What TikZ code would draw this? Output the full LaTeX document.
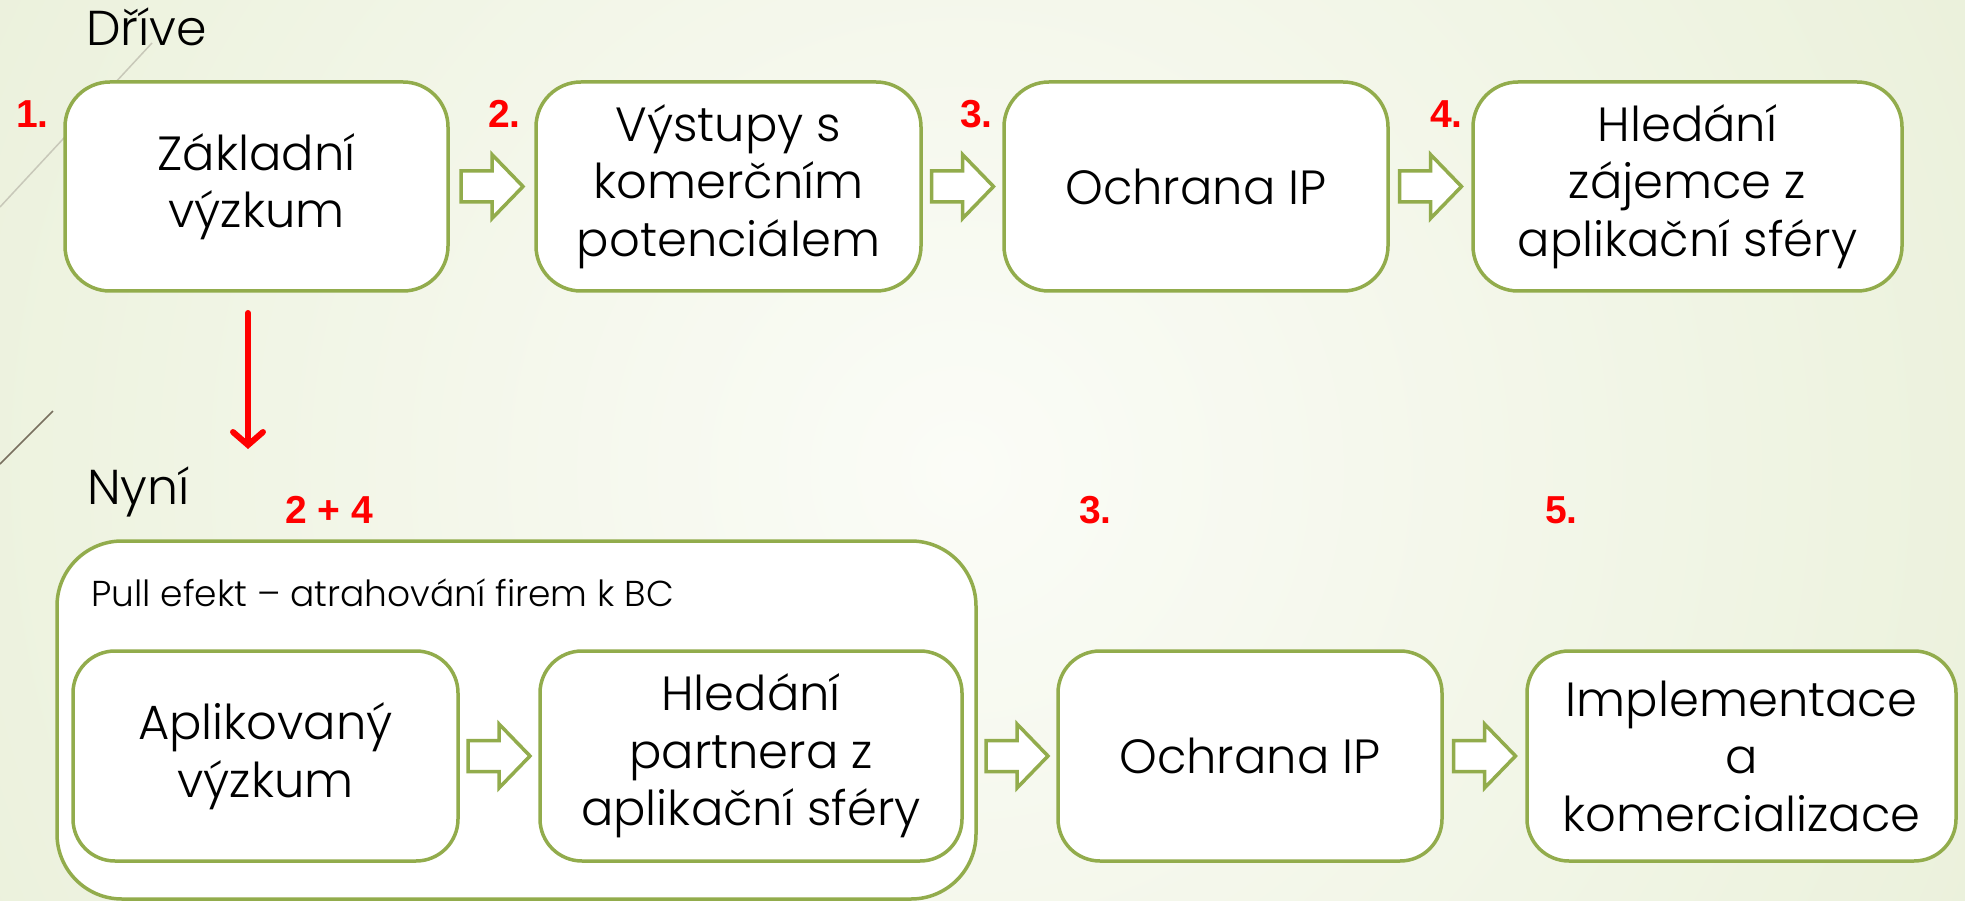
\documentclass[tikz,border=0pt]{standalone}
\usepackage{fontspec}
\setmainfont{Poppins}[UprightFont=* Light]
\newfontfamily\redfont{Liberation Sans}
\usetikzlibrary{calc,arrows.meta}

\definecolor{boxgreen}{RGB}{146,172,76}
\definecolor{bgedge}{RGB}{218,229,190}
\definecolor{bgmid}{RGB}{251,252,247}
\definecolor{decoA}{RGB}{200,200,185}
\definecolor{decoB}{RGB}{120,112,95}

\tikzset{
  stepbox/.style={draw=boxgreen, line width=3.5pt, fill=white, rounded corners=45pt,
    align=center, inner sep=0pt, font=\fontsize{48}{57.5}\selectfont},
  lowbox/.style={stepbox, rounded corners=42pt},
  groupbox/.style={draw=boxgreen, line width=3.5pt, fill=white, rounded corners=65pt, inner sep=0pt},
  titletext/.style={anchor=base west, inner sep=0pt, font=\fontsize{49}{60}\selectfont},
  pulltext/.style={anchor=base west, inner sep=0pt, font=\fontsize{36}{44}\selectfont},
  num/.style={anchor=base west, inner sep=0pt, text=red, font=\redfont\bfseries\fontsize{39}{42}\selectfont},
  barrow/.pic={\draw[boxgreen, line width=3.5pt, fill=white, line join=miter]
     (-31,-15.5) -- (0,-15.5) -- (0,-32) -- (31,0) -- (0,32) -- (0,15.5) -- (-31,15.5) -- cycle;}
}

\begin{document}
\begin{tikzpicture}[x=1pt,y=-1pt]
\useasboundingbox (0,0) rectangle (1965,901);
% background
\begin{scope}
  \clip (0,0) rectangle (1965,901);
  \fill[bgedge] (0,0) rectangle (1965,901);
  \shade[inner color=bgmid, outer color=bgedge] (960,470) circle (2300);
\end{scope}
% decorative lines
\draw[decoA, line width=1.5pt] (0,207) -- (152,43);
\draw[decoB, line width=1.5pt] (0,464) -- (53,411);

% titles
\node[titletext] (dt) at (86,46) {Dříve};
\node[titletext] (nt) at (87,504) {Nyní};

% top row
\node[stepbox, minimum width=383, minimum height=209] (b1) at (256.5,186.5) {Základní\\výzkum};
\node[stepbox, minimum width=385, minimum height=209] (b2) at (728.5,186.5) {Výstupy s\\komerčním\\potenciálem};
\node[stepbox, minimum width=384, minimum height=209] (b3) at (1196,186.5) {Ochrana IP};
\node[stepbox, minimum width=429, minimum height=209] (b4) at (1687.5,186.5) {Hledání\\zájemce z\\aplikační sféry};

\pic at ($(b1.east)!0.5!(b2.west)$) {barrow};
\pic at ($(b2.east)!0.5!(b3.west)$) {barrow};
\pic at ($(b3.east)!0.5!(b4.west)$) {barrow};

\node[num] (n1) at (16,128) {1.};
\node[num] (n2) at (488,128) {2.};
\node[num] (n3) at (960,128) {3.};
\node[num] (n4) at (1430,128) {4.};

% red arrow
\coordinate (rs) at (248,313);
\coordinate (re) at (248,449);
\draw[red, line width=6pt, line cap=round, -{Straight Barb[length=13pt,width=30pt,line cap=round]}] (rs) -- (re);

% bottom row
\node[groupbox, minimum width=919, minimum height=358] (grp) at (516.5,720) {};
\node[pulltext] (pt) at (91,606) {Pull efekt – atrahování firem k BC};
\node[lowbox, minimum width=385, minimum height=210] (c1) at (265.5,756) {Aplikovaný\\výzkum};
\node[lowbox, minimum width=422, minimum height=210] (c2) at (751,756) {Hledání\\partnera z\\aplikační sféry};
\node[lowbox, minimum width=384, minimum height=210] (c3) at (1250,756) {Ochrana IP};
\node[lowbox, minimum width=429, minimum height=210] (c4) at (1741.5,756) {Implementace\\a\\komercializace};

\pic at ($(c1.east)!0.5!(c2.west)$) {barrow};
\pic at ($(grp.east|-c3.west)!0.5!(c3.west)$) {barrow};
\pic at ($(c3.east)!0.5!(c4.west)$) {barrow};

\node[num] (m1) at (285,523) {2 + 4};
\node[num] (m2) at (1079,523) {3.};
\node[num] (m3) at (1545,523) {5.};
\end{tikzpicture}
\end{document}
